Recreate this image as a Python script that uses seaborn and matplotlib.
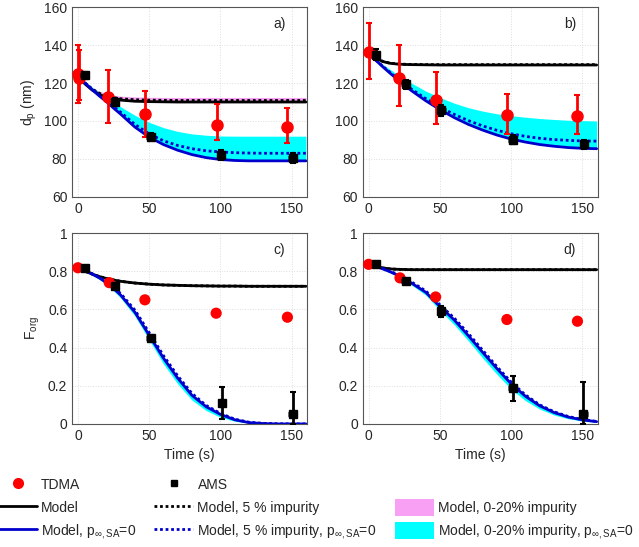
import numpy as np
import pandas as pd
import seaborn as sns
import matplotlib
matplotlib.use("Agg")
from matplotlib import pyplot as plt
from matplotlib.lines import Line2D
from matplotlib.patches import Patch

# model time grid (s)
t_model = [2, 5, 10, 15, 20, 25, 30, 40, 50, 60, 70, 80, 90, 100, 110, 120, 130, 140, 150, 160]

# ---- panel a: particle diameter (nm)
a_model = [122, 119.5, 116.3, 114, 112.5, 111.6, 111, 110.4, 110.2, 110.1, 110, 110, 110, 110, 110, 110, 110, 110, 110, 110]
a_model_5 = [122, 119.8, 116.8, 114.6, 113.2, 112.3, 111.7, 111.2, 111, 110.9, 110.8, 110.8, 110.8, 110.8, 110.8, 110.8, 110.8, 110.8, 110.8, 110.8]
a_imp_hi = [122, 120.2, 117.6, 115.7, 114.4, 113.6, 113.1, 112.7, 112.5, 112.4, 112.4, 112.4, 112.4, 112.4, 112.4, 112.4, 112.4, 112.4, 112.4, 112.4]
a_p0 = [122, 120, 116.5, 113.2, 110.2, 106.8, 103.6, 96.8, 91.5, 87.6, 84.6, 82.3, 80.7, 79.7, 79.2, 79, 79, 79, 79, 79]
a_p0_5 = [122, 120.1, 116.8, 113.7, 110.8, 107.6, 104.6, 98.2, 93.2, 89.6, 87.1, 85.4, 84.3, 83.7, 83.3, 83.1, 83, 83, 83, 83]
a_imp_p0_hi = [122, 120.5, 117.8, 115.2, 112.6, 110, 107.5, 103, 99.3, 96.5, 94.5, 93.2, 92.5, 92.1, 92, 92, 92, 92, 92, 92]

a_tdma_t = [0, 1, 21, 47, 97.5, 146.5]
a_tdma = [124.7, 122.4, 112.4, 103.7, 98, 97]
a_tdma_hi = [140, 137.5, 127, 116, 109, 107]
a_tdma_lo = [109.6, 111, 98.8, 91.8, 89.8, 88.4]
a_ams_t = [4.7, 26, 51, 100.5, 150.6]
a_ams = [124, 110, 91.8, 82.2, 80.6]
a_ams_err = [2, 2, 2, 2.5, 2.5]

# ---- panel b
b_model = [134.5, 133, 131.3, 130.4, 130, 129.8, 129.7, 129.6, 129.5, 129.5, 129.5, 129.5, 129.5, 129.5, 129.5, 129.5, 129.5, 129.5, 129.5, 129.5]
b_model_5 = [134.5, 133.1, 131.4, 130.5, 130.1, 129.9, 129.8, 129.7, 129.7, 129.7, 129.7, 129.7, 129.7, 129.7, 129.7, 129.7, 129.7, 129.7, 129.7, 129.7]
b_imp_hi = [134.5, 133.2, 131.6, 130.8, 130.4, 130.2, 130.1, 130, 130, 130, 130, 130, 130, 130, 130, 130, 130, 130, 130, 130]
b_p0 = [134, 132, 128.5, 125.2, 122, 119, 116, 110.7, 106, 101.8, 98.2, 95.2, 92.6, 90.5, 88.9, 87.6, 86.7, 86, 85.6, 85.4]
b_p0_5 = [134, 132.1, 128.8, 125.6, 122.5, 119.6, 116.8, 111.8, 107.3, 103.5, 100.2, 97.4, 95.1, 93.3, 91.9, 90.9, 90.2, 89.8, 89.5, 89.4]
b_imp_p0_hi = [134, 132.5, 129.8, 127.2, 124.6, 122.2, 120, 115.8, 112.4, 109.4, 107, 105.2, 103.8, 102.8, 102, 101.3, 100.8, 100.4, 100.2, 100]

b_tdma_t = [0, 21.5, 47, 97, 146.5]
b_tdma = [136.3, 122.6, 111.2, 103, 102.6]
b_tdma_hi = [151.6, 139.8, 125.8, 114.4, 113.5]
b_tdma_lo = [122, 108, 98.2, 93.4, 93.4]
b_ams_t = [5, 26, 51, 101, 151]
b_ams = [135, 119.3, 105.6, 90.2, 87.7]
b_ams_err = [3, 2.5, 3, 2.5, 2.5]

# ---- panel c: organic fraction
c_model = [0.815, 0.80, 0.785, 0.772, 0.762, 0.754, 0.747, 0.738, 0.732, 0.728, 0.726, 0.724, 0.723, 0.722, 0.722, 0.721, 0.721, 0.721, 0.721, 0.721]
c_p0 = [0.815, 0.805, 0.785, 0.765, 0.74, 0.71, 0.675, 0.585, 0.465, 0.345, 0.24, 0.15, 0.09, 0.05, 0.022, 0.007, 0.002, 0, 0, 0]
c_p0_5 = [0.815, 0.806, 0.787, 0.768, 0.745, 0.716, 0.683, 0.596, 0.478, 0.358, 0.252, 0.16, 0.097, 0.055, 0.025, 0.009, 0.003, 0.001, 0, 0]
c_imp_p0_lo = [0.815, 0.803, 0.78, 0.757, 0.73, 0.697, 0.66, 0.565, 0.44, 0.315, 0.21, 0.125, 0.07, 0.035, 0.014, 0.004, 0.001, 0, 0, 0]

c_tdma_t = [0, 22, 47, 97, 147]
c_tdma = [0.818, 0.74, 0.65, 0.58, 0.559]
c_ams_t = [5, 26, 51, 101, 150.6]
c_ams = [0.818, 0.723, 0.45, 0.11, 0.051]
c_ams_lo = [0.01, 0.01, 0.015, 0.085, 0.051]
c_ams_hi = [0.01, 0.01, 0.015, 0.082, 0.115]

# ---- panel d
d_model = [0.832, 0.825, 0.817, 0.812, 0.81, 0.809, 0.808, 0.808, 0.808, 0.808, 0.808, 0.808, 0.808, 0.808, 0.808, 0.808, 0.808, 0.808, 0.808, 0.808]
d_p0 = [0.832, 0.826, 0.812, 0.797, 0.78, 0.76, 0.738, 0.69, 0.615, 0.545, 0.462, 0.375, 0.29, 0.21, 0.145, 0.095, 0.06, 0.036, 0.021, 0.012]
d_p0_5 = [0.832, 0.827, 0.814, 0.8, 0.784, 0.765, 0.744, 0.697, 0.624, 0.555, 0.473, 0.386, 0.3, 0.219, 0.152, 0.1, 0.064, 0.039, 0.023, 0.013]
d_imp_p0_lo = [0.832, 0.825, 0.81, 0.793, 0.774, 0.752, 0.728, 0.675, 0.595, 0.52, 0.435, 0.345, 0.26, 0.182, 0.122, 0.078, 0.047, 0.027, 0.015, 0.008]

d_tdma_t = [0, 22, 47, 97, 146.5]
d_tdma = [0.836, 0.765, 0.665, 0.547, 0.538]
d_ams_t = [5, 26, 51, 101, 150.6]
d_ams = [0.836, 0.748, 0.589, 0.189, 0.053]
d_ams_lo = [0.01, 0.01, 0.03, 0.071, 0.053]
d_ams_hi = [0.01, 0.01, 0.03, 0.061, 0.167]

sns.set_style("white")
plt.rcParams['font.family'] = ['Liberation Sans', 'DejaVu Sans']
plt.rcParams['mathtext.fontset'] = 'custom'
plt.rcParams['mathtext.rm'] = 'Liberation Sans'
plt.rcParams['mathtext.it'] = 'Liberation Sans:italic'
plt.rcParams['font.size'] = 10

RED = '#ff0000'
BLUE = '#0000cc'
CYAN = '#00ffff'
PINK = '#f7a0f4'

fig = plt.figure(figsize=(6.39, 5.47), dpi=100)
ax_a = fig.add_axes([0.113, 0.640, 0.368, 0.347])
ax_b = fig.add_axes([0.568, 0.640, 0.368, 0.347])
ax_c = fig.add_axes([0.113, 0.225, 0.368, 0.349])
ax_d = fig.add_axes([0.568, 0.225, 0.368, 0.349])


def draw_models(ax, model, model_5, p0, p0_5, band_lo, band_hi, imp_hi=None):
    df = pd.DataFrame({'t': t_model, 'model': model, 'model5': model_5, 'p0': p0, 'p05': p0_5})
    if imp_hi is not None:
        ax.fill_between(t_model, model, imp_hi, color=PINK, lw=0, zorder=1)
    ax.fill_between(t_model, band_lo, band_hi, color=CYAN, lw=0, zorder=1)
    sns.lineplot(data=df, x='t', y='model', color='black', lw=2, ax=ax, zorder=2)
    sns.lineplot(data=df, x='t', y='model5', color='black', lw=2, ls=(0, (1, 1)), ax=ax, zorder=2)
    sns.lineplot(data=df, x='t', y='p0', color=BLUE, lw=2, ax=ax, zorder=2)
    sns.lineplot(data=df, x='t', y='p05', color=BLUE, lw=2, ls=(0, (1, 1)), ax=ax, zorder=2)


draw_models(ax_a, a_model, a_model_5, a_p0, a_p0_5, a_p0, a_imp_p0_hi, a_imp_hi)
draw_models(ax_b, b_model, b_model_5, b_p0, b_p0_5, b_p0, b_imp_p0_hi, b_imp_hi)
draw_models(ax_c, c_model, c_model, c_p0, c_p0_5, c_imp_p0_lo, c_p0)
draw_models(ax_d, d_model, d_model, d_p0, d_p0_5, d_imp_p0_lo, d_p0)

# TDMA points
for ax, t, y, hi, lo in [(ax_a, a_tdma_t, a_tdma, a_tdma_hi, a_tdma_lo),
                         (ax_b, b_tdma_t, b_tdma, b_tdma_hi, b_tdma_lo)]:
    y = np.array(y)
    ax.errorbar(t, y, yerr=[y - np.array(lo), np.array(hi) - y], fmt='o', color=RED,
                ms=8, lw=2, capsize=2, capthick=1.5, zorder=3)
for ax, t, y in [(ax_c, c_tdma_t, c_tdma), (ax_d, d_tdma_t, d_tdma)]:
    sns.scatterplot(x=t, y=y, color=RED, s=65, edgecolor='none', ax=ax, zorder=3)

# AMS points
for ax, t, y, lo, hi in [(ax_a, a_ams_t, a_ams, a_ams_err, a_ams_err),
                         (ax_b, b_ams_t, b_ams, b_ams_err, b_ams_err),
                         (ax_c, c_ams_t, c_ams, c_ams_lo, c_ams_hi),
                         (ax_d, d_ams_t, d_ams, d_ams_lo, d_ams_hi)]:
    ax.errorbar(t, y, xerr=3, fmt='none', ecolor='black', lw=3.5, capsize=0, zorder=4)
    ax.errorbar(t, y, yerr=[lo, hi], fmt='s', color='black', ms=6, lw=2,
                capsize=2, capthick=1.5, zorder=4)

for ax, lab in [(ax_a, 'a)'), (ax_b, 'b)'), (ax_c, 'c)'), (ax_d, 'd)')]:
    ax.set_xlim(-4, 161)
    ax.set_xticks([0, 50, 100, 150])
    ax.grid(True, color='#dddddd', lw=0.7, ls=':')
    ax.tick_params(direction='in', length=3, labelsize=10, colors='#262626')
    for s in ax.spines.values():
        s.set_color('#555555')
        s.set_linewidth(0.8)
    ax.set_xlabel('')
    ax.set_ylabel('')
    ax.text(0.88, 0.91, lab, transform=ax.transAxes, ha='center', va='center', fontsize=10)

for ax in [ax_a, ax_b]:
    ax.set_ylim(60, 160)
    ax.set_yticks([60, 80, 100, 120, 140, 160])
for ax in [ax_c, ax_d]:
    ax.set_ylim(0, 1)
    ax.set_yticks([0, 0.2, 0.4, 0.6, 0.8, 1])
    ax.set_yticklabels(['0', '0.2', '0.4', '0.6', '0.8', '1'])
    ax.set_xlabel('Time (s)', fontsize=10)

ax_a.set_ylabel('d$_\\mathrm{p}$ (nm)', fontsize=10)
ax_c.set_ylabel('F$_\\mathrm{org}$', fontsize=10)

# legend below the panels
handles = [
    Line2D([], [], marker='o', color=RED, ls='none', ms=7),
    Line2D([], [], color='black', lw=2),
    Line2D([], [], color=BLUE, lw=2),
    Line2D([], [], marker='s', color='black', ls='none', ms=5),
    Line2D([], [], color='black', lw=2, ls=(0, (1, 1))),
    Line2D([], [], color=BLUE, lw=2, ls=(0, (1, 1))),
    Line2D([], [], ls='none'),
    Patch(facecolor=PINK, edgecolor='none'),
    Patch(facecolor=CYAN, edgecolor='none'),
]
labels = ['TDMA', 'Model', 'Model, p$_{\\infty\\mathrm{,SA}}$=0',
          'AMS', 'Model, 5 % impurity', 'Model, 5 % impurity, p$_{\\infty\\mathrm{,SA}}$=0',
          ' ', 'Model, 0-20% impurity', 'Model, 0-20% impurity, p$_{\\infty\\mathrm{,SA}}$=0']
fig.legend(handles, labels, ncol=3, loc='lower left', bbox_to_anchor=(-0.016, -0.004),
           frameon=False, fontsize=10, handlelength=2.8, handleheight=1.45,
           handletextpad=0.3, columnspacing=1.3, labelspacing=0.45, borderpad=0.1)

fig.savefig('out.png', dpi=100)
